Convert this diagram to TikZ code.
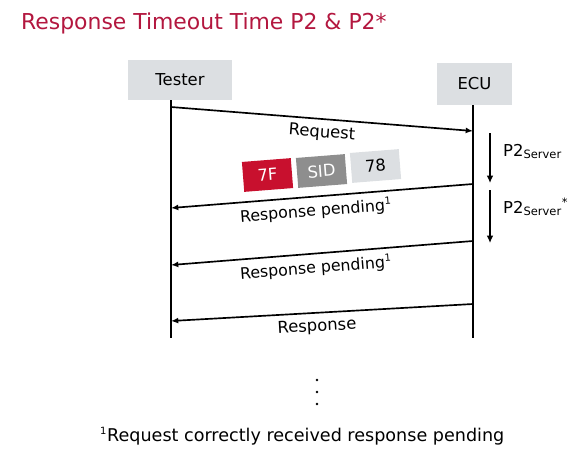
\documentclass[tikz,border=0pt]{standalone}
\usepackage{fontspec}
\setmainfont{DejaVu Sans}
\usetikzlibrary{arrows.meta}
\definecolor{titlered}{HTML}{B3173F}
\definecolor{bytered}{HTML}{C8102E}
\definecolor{bytegray}{HTML}{8E8E8E}
\definecolor{boxgray}{HTML}{DCDFE2}
\newcommand{\fnmark}{\textsuperscript{\fontsize{8.5}{9}\selectfont 1}}
\tikzset{
	lifeline/.style={line width=0.5mm},
	msg/.style={line width=0.5mm, -{Latex[length=2.2mm, width=1.8mm]}},
	timer/.style={line width=0.4mm, -{Latex[length=2.2mm, width=2mm]}},
	hdr/.style={fill=boxgray, inner sep=0pt, font=\fontsize{14}{16}\selectfont},
	msglabel/.style={font=\fontsize{13.5}{16}\selectfont},
	bytebox/.style={minimum width=1.47cm, minimum height=0.9cm, inner sep=0pt, font=\fontsize{14}{16}\selectfont}
}

\begin{document}
\begin{tikzpicture}[x=0.03cm, y=-0.03cm]
			%%%%% START %%%%%
			\useasboundingbox (0, 0) rectangle (572, 451);
			
			\node[anchor=base west, text=titlered, font=\fontsize{18.7}{22}\selectfont] (title) at (17, 30) {Response Timeout Time P2 \& P2*};
			
			\node[hdr, minimum width=3.12cm, minimum height=1.2cm] (tester) at (180, 80) {Tester};
			\node[hdr, minimum width=2.25cm, minimum height=1.26cm] (ecu) at (474.5, 84) {ECU};
			
			% lifelines
			\coordinate (tend) at (171, 338);
			\coordinate (eend) at (473, 338);
			\draw[lifeline] (tester.south -| tend) -- (tend);
			\draw[lifeline] (ecu.south -| eend) -- (eend);
			
			\coordinate (t1) at (171, 107);  \coordinate (e1) at (473, 131);
			\coordinate (e2) at (473, 184);  \coordinate (t2) at (171, 208);
			\coordinate (e3) at (473, 241);  \coordinate (t3) at (171, 265);
			\coordinate (e4) at (473, 304);  \coordinate (t4) at (171, 321);
			
			\draw[msg] (t1) -- (e1);
			\node[msglabel, rotate=-4.5, font=\fontsize{14}{16}\selectfont] (req) at (322, 133) {Request};
			
			\node[bytebox, fill=bytered, text=white, rotate=4.5] (b7f) at (267.5, 175) {7F};
			\node[bytebox, fill=bytegray, text=white, rotate=4.5] (bsid) at (321.5, 171) {SID};
			\node[bytebox, fill=boxgray, rotate=4.5] (b78) at (375.5, 166) {78};
			
			\draw[msg] (e2) -- (t2);
			\node[msglabel, rotate=4.5] (rp1) at (316, 211) {Response pending\fnmark};
			
			\draw[msg] (e3) -- (t3);
			\node[msglabel, rotate=4.5] (rp2) at (316, 268) {Response pending\fnmark};
			
			\draw[msg] (e4) -- (t4);
			\node[msglabel, rotate=3.2, font=\fontsize{14}{16}\selectfont] (resp) at (317, 327) {Response};
			
			% P2 timers
			\coordinate (p2a) at (490, 133);  \coordinate (p2b) at (490, 183);
			\coordinate (p2c) at (490, 190);  \coordinate (p2d) at (490, 243);
			\draw[timer] (p2a) -- (p2b);
			\draw[timer] (p2c) -- (p2d);
			\node[anchor=base west, inner sep=0pt, font=\fontsize{14}{16}\selectfont] (p2) at (503, 156) {P2\textsubscript{Server}};
			\node[anchor=base west, inner sep=0pt, font=\fontsize{14}{16}\selectfont] (p2star) at (503, 213) {P2\textsubscript{Server}\textsuperscript{*}};
			
			\foreach \y in {380, 392, 404}
				\fill (317, \y) circle (1.3);
			
			\node[anchor=base west, inner sep=0pt, font=\fontsize{15}{17}\selectfont] (note) at (100, 441) {\fnmark Request correctly received response pending};
			
			%%%%% END %%%%%
\end{tikzpicture}
\end{document}
